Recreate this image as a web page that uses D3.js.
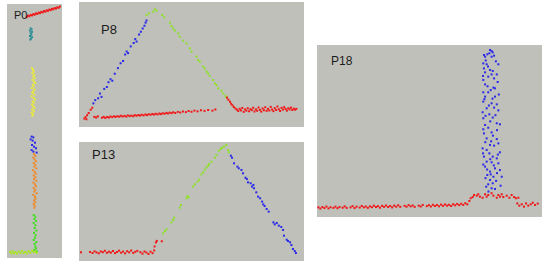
<!DOCTYPE html>
<html>
<head>
<meta charset="utf-8">
<script src="https://cdn.jsdelivr.net/npm/d3@7"></script>
<style>
  body { margin: 0; background: #fff; }
  svg { display: block; }
</style>
</head>
<body>
<svg id="chart" width="550" height="269"></svg>
<script>
// all values are in percent of the panel (x to the right, y up)

// ---- P0 ----
const p0Red = [[35.8,94.8],[38.2,95.4],[40.6,95.2],[43.0,95.7],[45.5,95.5],[47.9,96.0],[50.3,95.8],[52.7,96.3],[55.2,96.1],[57.6,96.6],[60.0,96.4],[62.4,96.9],[64.8,96.7],[67.3,97.2],[69.7,97.0],[72.1,97.5],[74.5,97.3],[77.0,97.8],[79.4,97.6],[81.8,98.1],[84.2,97.9],[86.7,98.4],[89.1,98.2],[91.5,98.7],[93.9,98.5],[96.4,99.0]];
const p0Teal = [[43.0,90.4],[44.8,90.0],[41.8,89.5],[45.5,89.0],[43.0,88.5],[44.2,87.9],[41.8,87.4],[45.5,86.9],[43.6,86.4],[42.4,86.0]];
const p0Yellow = [[45.5,74.7],[47.3,74.1],[48.5,73.4],[46.1,72.8],[49.7,72.1],[47.9,71.5],[50.3,70.8],[46.7,70.2],[49.1,69.5],[51.5,68.9],[47.3,68.2],[48.5,67.6],[45.5,66.9],[50.3,66.3],[47.9,65.6],[46.1,65.0],[49.7,64.3],[44.8,63.7],[48.5,63.0],[50.9,62.4],[46.7,61.7],[48.5,61.1],[45.5,60.4],[47.9,59.8],[49.7,59.1],[46.1,58.5],[48.5,57.8],[44.8,57.2],[47.3,56.6],[46.1,56.0]];
const p0Blue = [[44.8,47.8],[47.9,47.5],[43.0,46.7],[46.7,46.2],[50.9,45.4],[45.5,44.5],[49.1,43.8],[52.7,43.2],[44.8,42.5],[47.9,41.9],[53.9,41.5]];
const p0Orange = [[49.1,40.9],[51.5,40.2],[47.9,39.5],[50.3,38.8],[52.7,38.1],[48.5,37.4],[51.5,36.7],[49.7,36.0],[53.3,35.3],[47.3,34.6],[50.3,33.9],[52.1,33.2],[48.5,32.5],[51.5,31.8],[49.1,31.1],[53.3,30.4],[47.9,29.7],[50.9,29.0],[52.7,28.3],[48.5,27.6],[51.5,26.9],[49.7,26.2],[53.9,25.5],[47.9,24.8],[50.9,24.1],[52.1,23.4],[49.1,22.7],[51.5,22.0],[48.5,21.3],[50.3,20.6],[49.7,19.8]];
const p0Green = [[48.5,16.9],[51.5,16.3],[49.7,15.4],[52.7,14.6],[48.5,13.8],[51.5,12.9],[50.3,11.8],[53.3,10.8],[49.1,9.9],[52.1,9.0],[50.9,8.0],[48.5,7.1],[53.3,6.3],[50.3,5.5],[51.5,4.5],[52.7,3.8],[49.7,3.2],[53.9,2.6]];
const p0Lime = [[5.5,2.4],[7.9,1.8],[10.3,2.6],[12.7,1.9],[15.2,2.3],[18.2,1.7],[21.2,2.5],[24.2,2.0],[27.3,2.8],[30.3,1.9],[33.3,2.4],[36.4,1.8],[39.4,2.7],[42.4,2.1],[45.5,2.9],[48.5,2.3],[51.5,2.6],[53.9,2.0]];

// ---- P8 ----
const p8Blue = [[6.4,18.9],[7.2,21.5],[8.5,23.0],[9.3,26.8],[10.0,24.1],[11.2,30.5],[12.4,32.0],[13.1,35.8],[14.0,38.2],[14.8,37.0],[15.9,42.6],[17.3,47.1],[18.5,51.0],[19.6,52.8],[20.5,58.0],[21.2,60.4],[21.8,59.1],[23.0,64.5],[24.3,67.2],[25.0,70.3],[25.6,68.4],[26.7,74.0],[27.5,76.2],[28.3,78.8],[29.1,81.0],[29.6,83.5],[30.0,85.2]];
const p8Green = [[30.0,89.6],[31.1,90.9],[33.0,92.3],[33.7,94.1],[34.5,93.1],[37.0,89.6],[37.9,87.7],[40.4,83.5],[41.1,80.8],[41.9,78.9],[42.6,77.1],[44.1,74.9],[44.8,72.3],[46.3,69.1],[47.8,66.9],[49.3,62.9],[50.0,60.3],[52.2,56.3],[52.9,53.6],[53.7,52.3],[55.2,48.3],[55.9,46.9],[56.7,44.3],[57.4,42.9],[58.1,40.8],[59.6,37.6],[60.4,34.9],[61.1,33.6],[61.8,30.9],[63.3,29.1],[64.1,26.9],[65.1,24.8],[65.5,23.7]];
const p8Red = [[2.4,6.7],[2.9,7.9],[3.6,9.4],[4.3,11.2],[5.2,13.8],[5.9,15.4],[3.3,6.2],[6.8,8.1],[7.6,7.6],[8.4,8.5],
  [10.2,7.4],[11.0,8.1],[11.7,7.2],[12.5,8.0],[13.3,7.6],[14.0,8.4],[14.8,7.9],[15.6,8.6],[16.3,8.0],[17.1,8.7],[17.9,8.2],[18.6,9.0],[19.4,8.4],[20.2,8.9],[21.0,8.3],[21.7,9.3],[22.5,8.7],[23.3,9.1],[24.1,8.6],[24.8,9.5],[25.6,9.0],[26.4,9.6],[27.1,9.1],[27.9,9.8],[28.7,9.3],[29.5,10.0],[30.2,9.5],[31.0,10.2],[31.8,9.8],[32.6,10.4],[33.3,9.9],[34.1,10.6],[34.9,10.1],[35.7,10.8],[36.4,10.3],[37.2,11.0],[38.0,10.6],[38.8,11.3],[39.5,10.8],[40.3,11.5],[41.1,11.1],[41.9,11.8],[42.8,11.2],[43.9,12.1],[45.0,11.6],[46.2,12.4],[47.5,11.9],[48.7,12.8],[50.0,12.2],[51.3,13.1],[52.7,12.5],[54.2,13.4],[55.8,12.9],[57.4,13.6],[59.3,13.1],[60.6,14.0],
  [65.8,23.5],[66.4,21.8],[67.1,20.2],[67.6,18.6],[68.2,17.4],[68.8,16.0],[69.5,14.8],[70.2,13.9],
  [70.8,12.8],[71.4,14.6],[72.0,13.3],[72.6,15.2],[73.2,12.1],[73.8,14.0],[74.4,13.1],[75.0,15.0],[75.6,12.6],[76.2,14.3],[76.8,13.5],[77.4,15.4],[78.0,12.4],[78.6,14.1],[79.2,13.0],[79.8,15.6],[80.4,13.7],[81.0,12.3],[81.6,14.8],[82.2,13.4],[82.8,15.8],[83.4,12.9],[84.0,14.5],[84.6,13.2],[85.2,16.1],[85.8,14.0],[86.4,12.7],[87.0,15.1],[87.6,13.6],[88.2,16.4],[88.8,14.2],[89.4,12.8],[90.0,15.3],[90.6,13.9],[91.2,15.9],[91.8,14.4],[92.4,13.1],[93.0,15.0],[93.6,14.1],[94.2,15.5],[94.8,13.6],[95.4,14.7],[96.0,13.9],[96.6,14.5]];

// ---- P13 ----
const p13Red = [[0.9,7.3],[4.9,7.6],[6.0,6.7],[6.9,8.1],[7.8,7.2],[8.8,6.5],[9.7,8.0],[10.6,7.4],[11.5,8.6],[12.4,6.9],[13.3,7.8],[14.2,7.1],[15.1,8.4],[16.0,6.6],[16.9,7.6],[17.8,8.7],[18.7,7.0],[19.6,7.9],[20.5,6.4],[21.4,8.2],[22.3,7.3],[23.2,8.8],[24.1,6.8],[25.0,7.7],[25.9,8.5],[27.3,7.4],[28.2,6.2],[29.1,8.0],[30.0,7.1],[30.9,5.9],[31.8,7.8],[32.7,6.6],[33.4,8.9],[33.6,12.2],[34.2,15.6],[34.6,16.9],[36.8,16.6]];
const p13Green = [[37.4,23.2],[38.2,25.2],[38.9,26.6],[41.1,32.5],[41.9,34.5],[42.3,36.4],[44.8,44.8],[45.3,47.1],[47.8,52.7],[48.2,54.6],[48.8,53.5],[50.7,62.5],[51.5,64.4],[52.7,66.7],[53.3,68.3],[54.4,72.8],[55.2,74.5],[55.9,76.8],[56.7,78.7],[57.4,80.1],[57.8,81.5],[58.9,83.5],[60.4,86.8],[61.1,89.1],[62.1,92.7],[63.0,94.1],[63.6,95.2],[64.5,96.1],[65.5,97.5],[66.3,93.3],[66.6,91.3]];
const p13Blue = [[67.5,88.5],[68.0,86.8],[68.9,82.1],[70.4,79.3],[71.0,77.9],[72.2,76.5],[72.9,73.7],[74.0,70.0],[74.6,68.9],[75.1,66.1],[76.3,65.3],[76.9,62.5],[77.5,63.9],[77.8,61.1],[78.8,57.7],[79.6,54.1],[80.5,52.7],[81.4,49.9],[81.9,47.6],[82.5,46.2],[83.4,43.7],[84.3,41.5],[86.4,32.5],[87.0,30.8],[87.9,31.9],[88.8,29.7],[89.9,28.6],[90.7,26.1],[91.1,21.3],[92.3,17.9],[92.9,16.8],[93.8,15.7],[94.4,13.4],[95.1,10.1],[95.9,8.4],[96.4,6.7]];

// ---- P18 ----
const p18Blue = [[76.9,97.1],[77.6,96.5],[78.1,95.7],[76.6,95.2],[75.7,94.6],[74.2,94.2],[74.7,93.2],[77.6,93.2],[78.7,93.8],[73.9,89.3],[75.4,88.8],[80.6,88.8],[74.2,86.4],[76.9,85.5],[78.1,84.9],[74.7,84.1],[77.6,82.9],[79.9,82.9],[76.1,81.6],[73.9,79.7],[78.7,80.6],[74.7,77.1],[78.4,75.2],[79.1,74.8],[73.9,72.5],[76.1,72.5],[74.7,70.0],[79.1,70.0],[73.9,67.1],[77.6,66.1],[79.9,65.5],[75.4,63.2],[78.7,63.6],[73.6,60.9],[76.6,59.7],[73.9,57.4],[78.1,57.8],[79.9,54.5],[81.3,53.9],[74.7,53.5],[76.1,51.9],[74.2,48.6],[77.6,49.2],[75.4,45.7],[79.9,45.3],[73.6,39.9],[76.9,41.9],[78.7,41.5],[80.6,42.8],[75.4,39.0],[76.6,37.0],[81.3,37.6],[74.2,35.1],[78.1,35.1],[79.9,34.1],[75.4,32.2],[77.6,31.8],[80.6,31.2],[74.7,29.3],[79.1,28.3],[76.9,26.4],[81.3,27.3],[75.7,24.4],[78.4,23.4],[82.1,23.4],[76.9,21.5],[76.1,19.0],[78.1,19.6],[81.6,18.2],[77.6,16.7],[79.1,16.3],
  [75.0,91.0],[79.5,90.5],[76.0,87.5],[73.8,82.0],[80.3,78.5],[75.8,76.0],[77.2,73.8],[80.8,71.2],[74.4,68.5],[78.0,68.8],[76.4,64.8],[80.6,62.0],[74.9,58.8],[79.3,59.2],[77.0,55.6],[73.9,51.0],[80.0,50.5],[78.2,47.3],[74.8,43.5],[77.4,44.0],[73.8,37.0],[80.4,36.3],[77.0,33.6],[73.9,30.5],[78.6,30.0],[75.6,27.6],[80.0,25.5],[74.9,22.6],[79.6,21.0],[77.2,24.8],[75.2,17.6],[76.2,14.8]];
const p18Red = [[0.6,5.6],[1.5,4.9],[2.4,5.8],[3.3,5.2],[4.2,6.1],[5.1,5.0],[6.0,5.7],[7.3,5.3],[8.2,6.0],[9.1,5.1],[10.0,5.8],[11.4,5.4],[12.3,6.2],[13.2,5.3],[14.9,5.6],[15.8,6.3],[16.7,5.2],[17.6,6.0],[19.0,5.5],[19.9,6.4],[20.8,5.6],[21.7,6.1],[22.6,5.3],[23.5,6.2],[24.4,5.7],[25.3,6.6],[26.2,5.8],[27.1,6.3],[28.0,5.4],[28.9,6.5],[29.8,5.9],[30.7,6.7],[31.6,5.8],[32.5,6.4],[33.4,5.6],[34.3,6.6],[35.2,6.0],[36.1,6.8],[37.0,5.9],[38.9,6.5],[39.8,6.0],[40.7,6.9],[41.6,6.2],[42.5,6.7],[43.4,5.9],[45.2,6.6],[46.1,6.1],[47.0,7.0],[48.8,6.3],[49.7,6.9],[50.6,6.1],[51.5,7.1],[52.4,6.4],[53.3,7.0],[54.2,6.2],[55.1,7.2],[56.0,6.5],[56.9,7.3],[57.8,6.6],[58.7,7.1],[59.6,6.4],[60.5,7.4],[61.4,6.8],[62.3,7.6],[63.2,6.9],[64.1,7.7],[65.0,7.0],[65.9,8.0],[66.8,7.4],
  [67.7,9.3],[68.3,10.9],[69.2,11.6],[69.8,12.8],[71.0,12.4],[71.7,13.2],[72.4,11.8],[73.6,11.2],[74.7,13.2],[75.4,11.8],[76.1,12.8],[77.6,13.8],[78.4,12.4],[79.9,11.2],[80.6,12.8],[81.3,11.8],[82.1,13.2],[82.8,11.6],[84.3,12.4],[85.5,11.2],[86.5,12.8],[87.6,11.6],[88.4,10.9],[89.5,11.2],
  [89.0,7.9],[89.9,6.6],[91.0,7.4],[92.0,6.0],[92.9,7.9],[93.9,6.6],[95.0,7.4],[95.9,8.3],[96.9,7.0],[98.1,7.8]];

const colors = {
  red: "#f01818", blue: "#2a2ae8", green: "#8fe02c", teal: "#2b8f94",
  yellow: "#eaea3a", orange: "#f08a2c", brightGreen: "#3ee01c", lime: "#a6e61e"
};

const svg = d3.select("#chart");

function drawPanel(box, label, series) {
  const g = svg.append("g").attr("transform", `translate(${box.x},${box.y})`);

  g.append("rect")
    .attr("width", box.w)
    .attr("height", box.h)
    .attr("fill", "#bfc0ba");

  const x = d3.scaleLinear().domain([0, 100]).range([0, box.w]);
  const y = d3.scaleLinear().domain([0, 100]).range([box.h, 0]);

  series.forEach(function (s) {
    g.selectAll(null)
      .data(s.points)
      .enter()
      .append("rect")
      .attr("x", d => x(d[0]) - 1)
      .attr("y", d => y(d[1]) - 1)
      .attr("width", 2)
      .attr("height", 2)
      .attr("fill", s.color);
  });

  g.append("text")
    .attr("x", label.x)
    .attr("y", label.y)
    .attr("font-family", "'Liberation Sans', Arial, sans-serif")
    .attr("font-size", label.size)
    .attr("fill", "#1c1c1c")
    .text(label.text);
}

drawPanel({x: 7, y: 4, w: 55, h: 254}, {text: "P0", x: 7, y: 15, size: 11}, [
  {points: p0Teal, color: colors.teal},
  {points: p0Yellow, color: colors.yellow},
  {points: p0Blue, color: colors.blue},
  {points: p0Orange, color: colors.orange},
  {points: p0Green, color: colors.brightGreen},
  {points: p0Lime, color: colors.lime},
  {points: p0Red, color: colors.red}
]);

drawPanel({x: 79, y: 2, w: 225, h: 125}, {text: "P8", x: 22, y: 32, size: 13}, [
  {points: p8Blue, color: colors.blue},
  {points: p8Green, color: colors.green},
  {points: p8Red, color: colors.red}
]);

drawPanel({x: 79, y: 142, w: 225, h: 119}, {text: "P13", x: 13, y: 17, size: 13}, [
  {points: p13Red, color: colors.red},
  {points: p13Green, color: colors.green},
  {points: p13Blue, color: colors.blue}
]);

drawPanel({x: 317, y: 45, w: 225, h: 172}, {text: "P18", x: 14, y: 20, size: 12}, [
  {points: p18Red, color: colors.red},
  {points: p18Blue, color: colors.blue}
]);
</script>
</body>
</html>
